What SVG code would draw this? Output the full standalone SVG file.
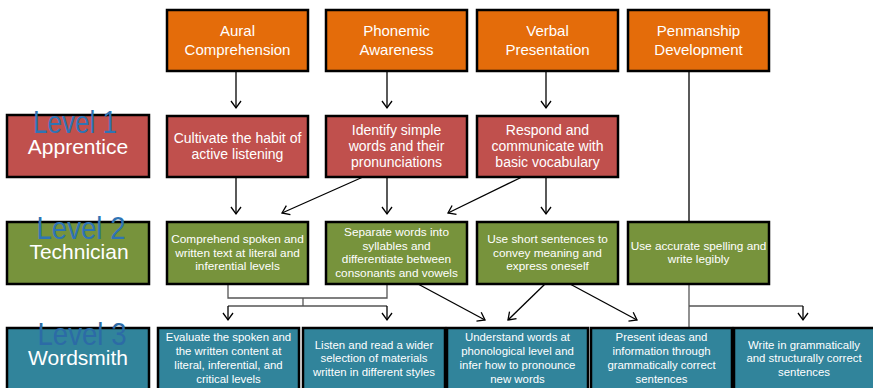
<svg xmlns="http://www.w3.org/2000/svg" width="873" height="388" viewBox="0 0 873 388">
<style>
.box{stroke:#000;stroke-width:2.5}
.or{fill:#E46C0A}.rd{fill:#C0504D}.gr{fill:#77933C}.tl{fill:#31849B}
text{font-family:"Liberation Sans",Arial,sans-serif;fill:#fff;text-anchor:middle}
.t0{font-size:15px}.t1{font-size:14px}.t2{font-size:11.8px}.t3{font-size:11.4px}
.lvl{font-size:32px;fill:#2E74B5}
.lvl3{font-size:32px;fill:#2C6BA6}
.name{font-size:21px}
.c{stroke:#000;stroke-width:1.3;fill:none}
.g{stroke:#555;stroke-width:1.3;fill:none}
</style>
<defs>
<marker id="ah" viewBox="-8 -6 10 12" refX="0" refY="0" markerWidth="10" markerHeight="12" markerUnits="userSpaceOnUse" orient="auto">
<path d="M-7,-5 L0,0 L-7,5" fill="none" stroke="#000" stroke-width="1.3"/>
</marker>
</defs>
<rect width="873" height="388" fill="#fff"/>

<g id="connectors">
<line class="c" x1="236" y1="71" x2="236" y2="108" marker-end="url(#ah)"/>
<line class="c" x1="387" y1="71" x2="387" y2="108" marker-end="url(#ah)"/>
<line class="c" x1="546" y1="71" x2="546" y2="108" marker-end="url(#ah)"/>
<line class="c" x1="689" y1="71" x2="689" y2="222"/>
<line class="c" x1="236" y1="177" x2="236" y2="214" marker-end="url(#ah)"/>
<line class="c" x1="363" y1="177" x2="282" y2="213" marker-end="url(#ah)"/>
<line class="c" x1="387" y1="177" x2="387" y2="214" marker-end="url(#ah)"/>
<line class="c" x1="522" y1="177" x2="448" y2="213" marker-end="url(#ah)"/>
<line class="c" x1="546" y1="177" x2="546" y2="214" marker-end="url(#ah)"/>
<polyline class="g" points="228,284 228,298 387,298 387,284"/>
<polyline class="g" points="303,298 303,306"/>
<polyline class="g" points="228,306 387,306"/>
<line class="c" x1="228" y1="306" x2="228" y2="320" marker-end="url(#ah)"/>
<line class="c" x1="387" y1="306" x2="387" y2="320" marker-end="url(#ah)"/>
<line class="c" x1="418" y1="284" x2="485" y2="320" marker-end="url(#ah)"/>
<line class="c" x1="545" y1="284" x2="508" y2="320" marker-end="url(#ah)"/>
<line class="c" x1="570" y1="284" x2="637" y2="320" marker-end="url(#ah)"/>
<line class="g" x1="689" y1="284" x2="689" y2="328"/>
<polyline class="g" points="689,306 803,306"/>
<line class="c" x1="803" y1="306" x2="803" y2="320" marker-end="url(#ah)"/>
</g>

<g id="top1"><rect class="box or" x="167" y="10" width="141" height="61"/><text class="t0" x="237.5" y="36">Aural</text><text class="t0" x="237.5" y="55">Comprehension</text></g>
<g id="top2"><rect class="box or" x="326" y="10" width="141" height="61"/><text class="t0" x="396.5" y="36">Phonemic</text><text class="t0" x="396.5" y="55">Awareness</text></g>
<g id="top3"><rect class="box or" x="477" y="10" width="141" height="61"/><text class="t0" x="547.5" y="36">Verbal</text><text class="t0" x="547.5" y="55">Presentation</text></g>
<g id="top4"><rect class="box or" x="628" y="10" width="141" height="61"/><text class="t0" x="698.5" y="36">Penmanship</text><text class="t0" x="698.5" y="55">Development</text></g>

<g id="level1"><rect class="box rd" x="7" y="115" width="142" height="62"/><text class="lvl" x="75" y="133" textLength="84" lengthAdjust="spacingAndGlyphs">Level 1</text><text class="name" x="78" y="154">Apprentice</text></g>
<g id="l1a"><rect class="box rd" x="167" y="116" width="141" height="61"/><text class="t1" x="237.5" y="143">Cultivate the habit of</text><text class="t1" x="237.5" y="159">active listening</text></g>
<g id="l1b"><rect class="box rd" x="326" y="116" width="141" height="61"/><text class="t1" x="396.5" y="135">Identify simple</text><text class="t1" x="396.5" y="151">words and their</text><text class="t1" x="396.5" y="167">pronunciations</text></g>
<g id="l1c"><rect class="box rd" x="477" y="116" width="141" height="61"/><text class="t1" x="547.5" y="135">Respond and</text><text class="t1" x="547.5" y="151">communicate with</text><text class="t1" x="547.5" y="167">basic vocabulary</text></g>

<g id="level2"><rect class="box gr" x="7" y="222" width="142" height="62"/><text class="lvl" x="81" y="239" textLength="89" lengthAdjust="spacingAndGlyphs">Level 2</text><text class="name" x="79" y="259">Technician</text></g>
<g id="l2a"><rect class="box gr" x="167" y="222" width="141" height="62"/><text class="t2" x="237.5" y="243">Comprehend spoken and</text><text class="t2" x="237.5" y="256.5">written text at literal and</text><text class="t2" x="237.5" y="270">inferential levels</text></g>
<g id="l2b"><rect class="box gr" x="326" y="222" width="141" height="62"/><text class="t2" x="396.5" y="236">Separate words into</text><text class="t2" x="396.5" y="250">syllables and</text><text class="t2" x="396.5" y="263">differentiate between</text><text class="t2" x="396.5" y="277">consonants and vowels</text></g>
<g id="l2c"><rect class="box gr" x="477" y="222" width="141" height="62"/><text class="t2" x="547.5" y="243">Use short sentences to</text><text class="t2" x="547.5" y="256.5">convey meaning and</text><text class="t2" x="547.5" y="270">express oneself</text></g>
<g id="l2d"><rect class="box gr" x="628" y="222" width="141" height="62"/><text class="t2" x="698.5" y="250">Use accurate spelling and</text><text class="t2" x="698.5" y="263">write legibly</text></g>

<g id="level3"><rect class="box tl" x="7" y="328" width="142" height="70"/><text class="lvl3" x="82" y="345" textLength="89" lengthAdjust="spacingAndGlyphs">Level 3</text><text class="name" x="78" y="365">Wordsmith</text></g>
<g id="l3a"><rect class="box tl" x="158" y="328" width="141" height="70"/><text class="t3" x="228.5" y="341">Evaluate the spoken and</text><text class="t3" x="228.5" y="355">the written content at</text><text class="t3" x="228.5" y="369">literal, inferential, and</text><text class="t3" x="228.5" y="383">critical levels</text></g>
<g id="l3b"><rect class="box tl" x="303" y="328" width="142" height="70"/><text class="t3" x="374" y="349">Listen and read a wider</text><text class="t3" x="374" y="362">selection of materials</text><text class="t3" x="374" y="376">written in different styles</text></g>
<g id="l3c"><rect class="box tl" x="447" y="328" width="141" height="70"/><text class="t3" x="517.5" y="341">Understand words at</text><text class="t3" x="517.5" y="355">phonological level and</text><text class="t3" x="517.5" y="369">infer how to pronounce</text><text class="t3" x="517.5" y="383">new words</text></g>
<g id="l3d"><rect class="box tl" x="591" y="328" width="141" height="70"/><text class="t3" x="661.5" y="341">Present ideas and</text><text class="t3" x="661.5" y="355">information through</text><text class="t3" x="661.5" y="369">grammatically correct</text><text class="t3" x="661.5" y="383">sentences</text></g>
<g id="l3e"><rect class="box tl" x="734" y="328" width="142" height="70"/><text class="t3" x="804" y="349">Write in grammatically</text><text class="t3" x="804" y="362">and structurally correct</text><text class="t3" x="804" y="376">sentences</text></g>
</svg>
